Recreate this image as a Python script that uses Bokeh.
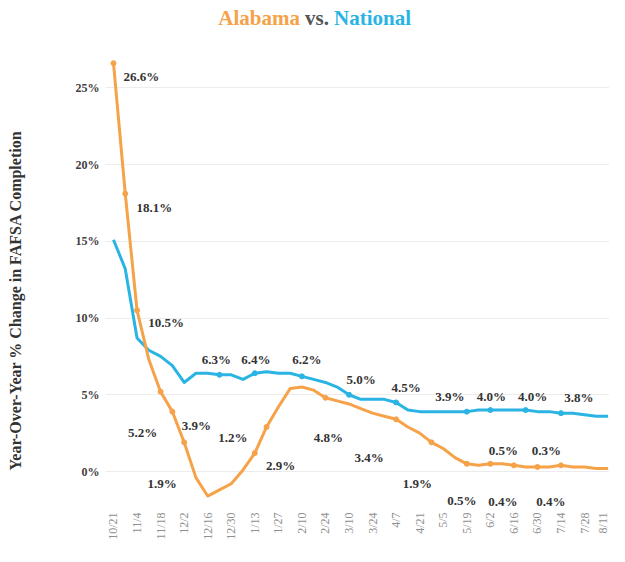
import math
from bokeh.plotting import figure
from bokeh.models import ColumnDataSource, FixedTicker, Label, PrintfTickFormatter, Title
from bokeh.core.properties import value
from bokeh.embed import file_html
from bokeh.resources import INLINE

# ---------------- data ----------------
weeks = ["10/21", "10/28", "11/4", "11/11", "11/18", "11/25", "12/2", "12/9", "12/16", "12/23",
         "12/30", "1/6", "1/13", "1/20", "1/27", "2/3", "2/10", "2/17", "2/24", "3/3",
         "3/10", "3/17", "3/24", "3/31", "4/7", "4/14", "4/21", "4/28", "5/5", "5/12",
         "5/19", "5/26", "6/2", "6/9", "6/16", "6/23", "6/30", "7/7", "7/14", "7/21",
         "7/28", "8/4", "8/11"]

alabama = [26.6, 18.1, 10.5, 7.3, 5.2, 3.9, 1.9, -0.4, -1.6, -1.2,
           -0.8, 0.1, 1.2, 2.9, 4.2, 5.4, 5.5, 5.3, 4.8, 4.6,
           4.4, 4.1, 3.8, 3.6, 3.4, 2.9, 2.5, 1.9, 1.5, 0.9,
           0.5, 0.4, 0.5, 0.5, 0.4, 0.3, 0.3, 0.3, 0.4, 0.3,
           0.3, 0.2, 0.2]

national = [15.1, 13.2, 8.7, 7.9, 7.5, 6.9, 5.8, 6.4, 6.4, 6.3,
            6.3, 6.0, 6.4, 6.5, 6.4, 6.4, 6.2, 6.0, 5.8, 5.5,
            5.0, 4.7, 4.7, 4.7, 4.5, 4.0, 3.9, 3.9, 3.9, 3.9,
            3.9, 4.0, 4.0, 4.0, 4.0, 4.0, 3.9, 3.9, 3.8, 3.8,
            3.7, 3.6, 3.6]

tick_labels = weeks[::2]
y_ticks = [0, 5, 10, 15, 20, 25]

# points that carry a marker and a value label
al_points = [0, 1, 2, 4, 5, 6, 12, 13, 18, 24, 27, 32, 36, 30, 34, 38]
nat_points = [9, 12, 16, 20, 24, 30, 32, 35, 38]

# ---------------- styling ----------------
ORANGE = "#F5A249"
BLUE = "#2AB4E4"
LABEL_COLOR = "#333333"
SERIF = "Liberation Serif"

# label offsets in pixels (dx, dy; dy positive = downwards)
al_dx = [28, 29, 29, -18, 24, -22, -22, 14, 3, -27, -14, 13, 9, -5, -11, -10]
al_dy = [13, 14, 12, 41, 14, 41, -16, 39, 40, 38, 41, -13, -16, 37, 36, 36]
nat_dx = [-3, 1, 5, 12, 10, -17, 1, 7, 18]
nat_dy = [-15, -14, -17, -15, -15, -15, -14, -14, -16]

# geometry (canvas pixels)
W, H = 609, 546
BL, BR, BT, BB = 104, 0, 0, 38
FW, FH = W - BL - BR, H - BT - BB
PX_X = 11.8        # px per week
PX_Y = 15.35       # px per percentage point
FIRST_X = 112      # canvas x of the first week
ZERO_Y = 471       # canvas y of 0 %
x_start = -(FIRST_X - BL) / PX_X
x_end = x_start + FW / PX_X
y_end = (ZERO_Y - BT) / PX_Y
y_start = y_end - FH / PX_Y

p = figure(width=W, height=H, output_backend="svg", toolbar_location=None,
           x_range=(x_start, x_end), y_range=(y_start, y_end),
           min_border_left=BL, min_border_right=BR, min_border_top=BT, min_border_bottom=BB)
p.outline_line_color = None
p.background_fill_color = "white"

idx = list(range(len(weeks)))
src = ColumnDataSource(dict(x=idx, al=alabama, nat=national))

p.line("x", "nat", source=src, line_color=BLUE, line_width=3, line_join="round")
p.line("x", "al", source=src, line_color=ORANGE, line_width=3, line_join="round")

al_src = ColumnDataSource(dict(
    x=al_points, y=[alabama[i] for i in al_points],
    t=["%.1f%%" % alabama[i] for i in al_points], dx=al_dx, dy=al_dy))
nat_src = ColumnDataSource(dict(
    x=nat_points, y=[national[i] for i in nat_points],
    t=["%.1f%%" % national[i] for i in nat_points], dx=nat_dx, dy=nat_dy))

p.scatter("x", "y", source=nat_src, size=5, color=BLUE)
p.scatter("x", "y", source=al_src, size=5, color=ORANGE)

for s in (al_src, nat_src):
    p.text("x", "y", text="t", source=s, x_offset="dx", y_offset="dy",
           text_align="center", text_baseline="middle",
           text_font=value(SERIF), text_font_style="bold", text_font_size="13px",
           text_color=LABEL_COLOR)

# axes
p.yaxis.ticker = FixedTicker(ticks=y_ticks)
p.yaxis.formatter = PrintfTickFormatter(format="%d%%")
p.yaxis.axis_line_color = None
p.yaxis.major_tick_line_color = None
p.yaxis.minor_tick_line_color = None
p.yaxis.major_tick_out = 0
p.yaxis.major_tick_in = 0
p.yaxis.minor_tick_out = 0
p.yaxis.major_label_text_font = SERIF
p.yaxis.major_label_text_font_style = "bold"
p.yaxis.major_label_text_font_size = "12px"
p.yaxis.major_label_text_color = "#404040"
p.yaxis.major_label_standoff = 6
# blank spacer label pushes the axis title further left
p.yaxis.axis_label = " "
p.yaxis.axis_label_text_font_size = "20px"
p.yaxis.axis_label_standoff = 18

p.add_layout(Title(text="Year-Over-Year % Change in FAFSA Completion", align="left",
                   offset=FH - 470, vertical_align="middle", text_font=SERIF,
                   text_font_style="bold", text_font_size="16px", text_color="#333333"),
             "left")

p.xaxis.ticker = FixedTicker(ticks=idx[::2])
p.xaxis.major_label_overrides = {i: lab for i, lab in zip(idx[::2], tick_labels)}
p.xaxis.major_label_orientation = math.pi / 2
p.xaxis.axis_line_color = None
p.xaxis.major_tick_line_color = None
p.xaxis.minor_tick_line_color = None
p.xaxis.major_tick_out = 0
p.xaxis.major_tick_in = 0
p.xaxis.minor_tick_out = 0
p.xaxis.major_label_text_font = SERIF
p.xaxis.major_label_text_font_size = "12px"
p.xaxis.major_label_text_color = "#8f8f8f"
p.xaxis.major_label_standoff = 4

p.xgrid.grid_line_color = None
p.ygrid.ticker = FixedTicker(ticks=y_ticks)
p.ygrid.grid_line_color = "#ececec"
p.ygrid.grid_line_width = 1

# title built from three coloured labels (positions in canvas pixels)
def dx_of(cx):
    return x_start + (cx - BL) / PX_X

def dy_of(cy):
    return y_end - (cy - BT) / PX_Y

title_parts = [("Alabama", ORANGE, 217), ("vs.", "#555555", 304), ("National", BLUE, 333)]
for txt, col, cx in title_parts:
    p.add_layout(Label(x=dx_of(cx), y=dy_of(17), text=txt, text_color=col,
                       text_font=SERIF, text_font_style="bold", text_font_size="21px",
                       text_align="left", text_baseline="middle"))

open("out.html", "w").write(file_html(p, INLINE))
